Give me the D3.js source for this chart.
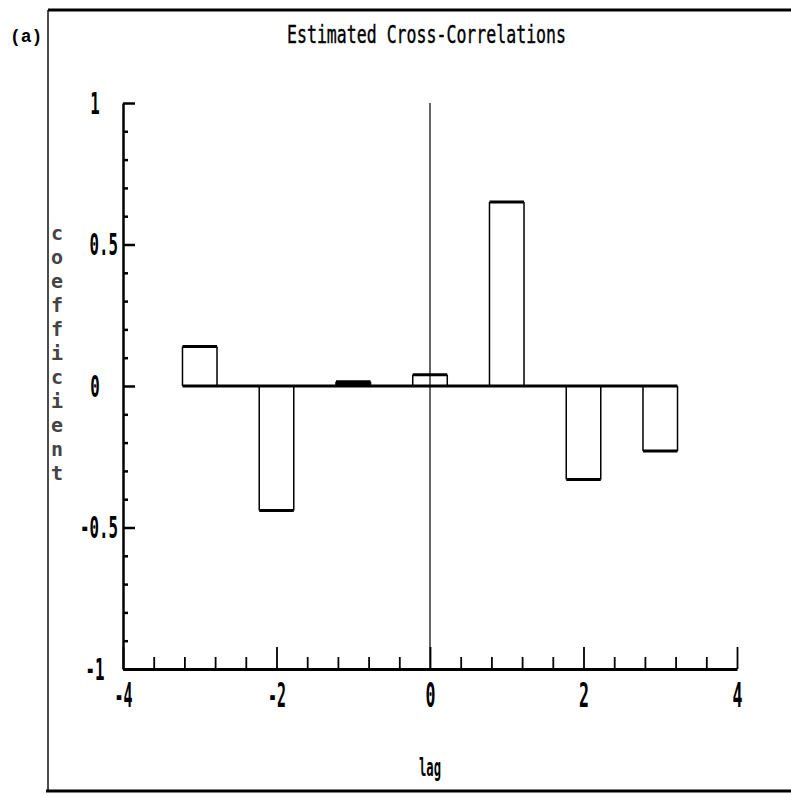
<!DOCTYPE html>
<html>
<head>
<meta charset="utf-8">
<script src="https://cdn.jsdelivr.net/npm/d3@7"></script>
<style>
  html, body { margin: 0; padding: 0; background: #fff; }
  svg { display: block; }
</style>
</head>
<body>
<svg id="chart" width="791" height="797"></svg>
<script>
// ---- data ----
const lags = [-3, -2, -1, 0, 1, 2, 3];
const coefficients = [0.14, -0.44, 0.015, 0.04, 0.65, -0.33, -0.23];
const xMajorTicks = [-4, -2, 0, 2, 4];
const xTickLabels = ["-4", "-2", "0", "2", "4"];
const xMinorTicks = [-3.6, -3.2, -2.8, -2.4, -1.6, -1.2, -0.8, -0.4, 0.4, 0.8, 1.2, 1.6, 2.4, 2.8, 3.2, 3.6];
const yMajorTicks = [1, 0.5, 0, -0.5, -1];
const yTickLabels = ["1", "0.5", "0", "-0.5", "-1"];
const yMinorTicks = [0.9, 0.8, 0.7, 0.6, 0.4, 0.3, 0.2, 0.1, -0.1, -0.2, -0.3, -0.4, -0.6, -0.7, -0.8, -0.9];
const titleText = "Estimated Cross-Correlations";
const panelLabel = "(a)";
const xLabel = "lag";
const yLabel = "coefficient";
const barWidthUnits = 0.45;

// ---- layout ----
const svg = d3.select("#chart");
const x = d3.scaleLinear().domain([-4, 4]).range([123, 737]);
const y = d3.scaleLinear().domain([-1, 1]).range([669, 103]);
const tickFont = "'DejaVu Sans Mono', monospace";

// frame (top, left, bottom)
svg.append("line").attr("x1", 48).attr("x2", 791).attr("y1", 10).attr("y2", 10)
  .attr("stroke", "#000").attr("stroke-width", 3);
svg.append("line").attr("x1", 48).attr("x2", 48).attr("y1", 10).attr("y2", 791)
  .attr("stroke", "#111").attr("stroke-width", 1.5);
svg.append("line").attr("x1", 46).attr("x2", 791).attr("y1", 791).attr("y2", 791)
  .attr("stroke", "#000").attr("stroke-width", 3);

// panel label
svg.append("text").attr("x", 10).attr("y", 42)
  .attr("font-family", "'Liberation Mono', 'DejaVu Sans Mono', monospace")
  .attr("font-weight", "bold").attr("font-size", 18).attr("fill", "#000")
  .text(panelLabel);

// title
svg.append("text").attr("x", 287).attr("y", 43)
  .attr("font-family", tickFont).attr("font-size", 25)
  .attr("textLength", 279).attr("lengthAdjust", "spacingAndGlyphs")
  .attr("fill", "#000").attr("stroke", "#000").attr("stroke-width", 0.4)
  .text(titleText);

// vertical zero line
svg.append("line").attr("x1", x(0)).attr("x2", x(0)).attr("y1", y(1)).attr("y2", y(-1))
  .attr("stroke", "#000").attr("stroke-width", 1.2);

// y axis minor ticks
const yMinor = svg.append("g").attr("transform", `translate(${x(-4)},0)`)
  .call(d3.axisLeft(y).tickValues(yMinorTicks).tickSize(-5).tickFormat(""));
yMinor.select(".domain").remove();
yMinor.selectAll("line").attr("stroke", "#000").attr("stroke-width", 2.5);

// y axis major
const yAxis = svg.append("g").attr("transform", `translate(${x(-4)},0)`)
  .call(d3.axisLeft(y).tickValues(yMajorTicks).tickSizeInner(-12).tickSizeOuter(0)
    .tickPadding(6).tickFormat((d, i) => yTickLabels[i]));
yAxis.select(".domain").attr("stroke", "#000").attr("stroke-width", 2.5);
yAxis.selectAll("line").attr("stroke", "#000").attr("stroke-width", 2.5);
yAxis.selectAll("text")
  .attr("font-family", tickFont).attr("font-size", 31).attr("fill", "#000")
  .attr("font-weight", "bold")
  .attr("lengthAdjust", "spacingAndGlyphs")
  .attr("textLength", (d, i) => yTickLabels[i].length * 9.5)
  .attr("text-anchor", (d, i) => yTickLabels[i].length > 2 ? "end" : "middle")
  .attr("x", (d, i) => yTickLabels[i].length > 2 ? -5 : -28)
  .attr("dy", "0.33em");

// x axis minor ticks
const xMinor = svg.append("g").attr("transform", `translate(0,${y(-1)})`)
  .call(d3.axisBottom(x).tickValues(xMinorTicks).tickSize(-12).tickFormat(""));
xMinor.select(".domain").remove();
xMinor.selectAll("line").attr("stroke", "#000").attr("stroke-width", 1.8);

// x axis major
const xAxis = svg.append("g").attr("transform", `translate(0,${y(-1)})`)
  .call(d3.axisBottom(x).tickValues(xMajorTicks).tickSizeInner(-22).tickSizeOuter(0)
    .tickPadding(15).tickFormat((d, i) => xTickLabels[i]));
xAxis.select(".domain").attr("stroke", "#000").attr("stroke-width", 3);
xAxis.selectAll("line").attr("stroke", "#000").attr("stroke-width", 1.8);
xAxis.selectAll("text")
  .attr("font-family", tickFont).attr("font-size", 33).attr("fill", "#000")
  .attr("font-weight", "bold")
  .attr("lengthAdjust", "spacingAndGlyphs")
  .attr("textLength", (d, i) => xTickLabels[i].length * 8 + 2)
  .attr("dy", "0.71em");

// bars
const bars = svg.append("g");
lags.forEach((lag, i) => {
  const v = coefficients[i];
  const x0 = x(lag - barWidthUnits / 2), x1 = x(lag + barWidthUnits / 2);
  const y0 = y(0), y1 = y(v);
  bars.append("path")
    .attr("d", `M${x0},${y0} L${x0},${y1} M${x1},${y0} L${x1},${y1}`)
    .attr("stroke", "#000").attr("stroke-width", 1.5).attr("fill", "none");
  bars.append("line").attr("x1", x0).attr("x2", x1).attr("y1", y1).attr("y2", y1)
    .attr("stroke", "#000").attr("stroke-width", 3);
  if (Math.abs(y1 - y0) < 6) {
    bars.append("rect").attr("x", x0).attr("width", x1 - x0)
      .attr("y", Math.min(y0, y1)).attr("height", Math.abs(y1 - y0))
      .attr("fill", "#000");
  }
});
// baseline spanning the bars
svg.append("line")
  .attr("x1", x(lags[0] - barWidthUnits / 2)).attr("x2", x(lags[lags.length - 1] + barWidthUnits / 2))
  .attr("y1", y(0)).attr("y2", y(0))
  .attr("stroke", "#000").attr("stroke-width", 3);

// x label
svg.append("text").attr("x", x(0)).attr("y", 776).attr("text-anchor", "middle")
  .attr("font-family", tickFont).attr("font-size", 24).attr("font-weight", "bold")
  .attr("textLength", 22).attr("lengthAdjust", "spacingAndGlyphs")
  .attr("fill", "#000").text(xLabel);

// y label: stacked letters
const letters = yLabel.split("");
svg.append("g").selectAll("text").data(letters).join("text")
  .attr("x", 57).attr("y", (d, i) => 240 + i * 24)
  .attr("text-anchor", "middle")
  .attr("font-family", tickFont).attr("font-size", 20).attr("font-weight", "bold")
  .attr("fill", "#444")
  .text(d => d);
</script>
</body>
</html>
